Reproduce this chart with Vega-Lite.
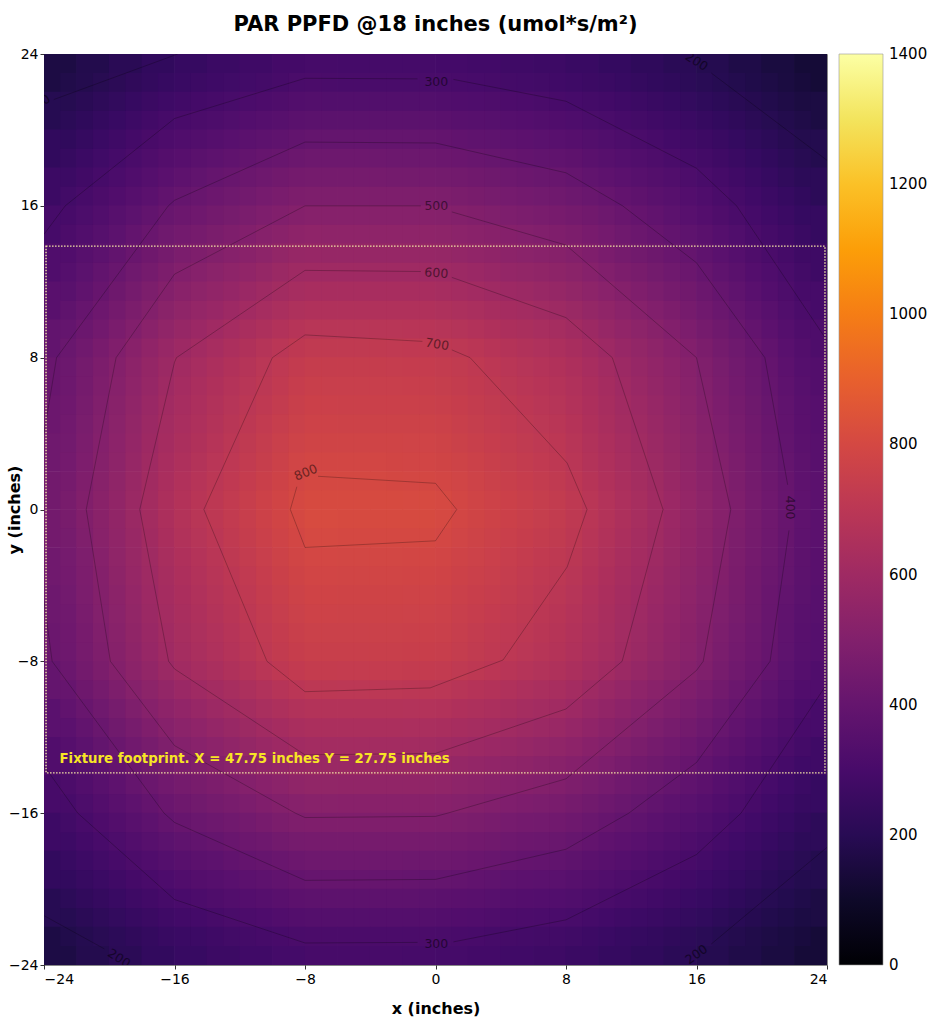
{
  "$schema": "https://vega.github.io/schema/vega-lite/v6.json",
  "width": 783,
  "height": 911,
  "autosize": {"type": "none"},
  "padding": {"left": 44, "top": 54, "right": 107, "bottom": 59},
  "background": "white",
  "title": {"text": "PAR PPFD @18 inches (umol*s/m²)", "font": "DejaVu Sans", "fontSize": 21, "fontWeight": "bold", "color": "#000", "anchor": "middle", "offset": 12},
  "config": {
    "view": {"stroke": "#888", "strokeWidth": 1},
    "axis": {"labelFont": "DejaVu Sans", "labelFontSize": 14, "labelColor": "#000", "tickColor": "#000", "tickSize": 4, "tickWidth": 0.8, "domain": false, "grid": false, "titleFont": "DejaVu Sans", "titleFontSize": 16, "titleFontWeight": "bold", "titleColor": "#000"}
  },
  "datasets": {
    "heat": [
{"x":-23,"y":23,"v":161},{"x":-21,"y":23,"v":183},{"x":-19,"y":23,"v":205},{"x":-17,"y":23,"v":227},{"x":-15,"y":23,"v":244},{"x":-13,"y":23,"v":258},{"x":-11,"y":23,"v":271},{"x":-9,"y":23,"v":285},{"x":-7,"y":23,"v":292},{"x":-5,"y":23,"v":291},{"x":-3,"y":23,"v":291},{"x":-1,"y":23,"v":291},{"x":1,"y":23,"v":287},{"x":3,"y":23,"v":279},{"x":5,"y":23,"v":271},{"x":7,"y":23,"v":264},{"x":9,"y":23,"v":252},{"x":11,"y":23,"v":237},{"x":13,"y":23,"v":222},{"x":15,"y":23,"v":206},{"x":17,"y":23,"v":189},{"x":19,"y":23,"v":170},{"x":21,"y":23,"v":151},{"x":23,"y":23,"v":132},
{"x":-23,"y":21,"v":194},{"x":-21,"y":21,"v":221},{"x":-19,"y":21,"v":247},{"x":-17,"y":21,"v":273},{"x":-15,"y":21,"v":294},{"x":-13,"y":21,"v":310},{"x":-11,"y":21,"v":327},{"x":-9,"y":21,"v":343},{"x":-7,"y":21,"v":351},{"x":-5,"y":21,"v":351},{"x":-3,"y":21,"v":351},{"x":-1,"y":21,"v":350},{"x":1,"y":21,"v":345},{"x":3,"y":21,"v":336},{"x":5,"y":21,"v":327},{"x":7,"y":21,"v":318},{"x":9,"y":21,"v":304},{"x":11,"y":21,"v":286},{"x":13,"y":21,"v":267},{"x":15,"y":21,"v":249},{"x":17,"y":21,"v":227},{"x":19,"y":21,"v":205},{"x":21,"y":21,"v":182},{"x":23,"y":21,"v":159},
{"x":-23,"y":19,"v":227},{"x":-21,"y":19,"v":258},{"x":-19,"y":19,"v":289},{"x":-17,"y":19,"v":319},{"x":-15,"y":19,"v":344},{"x":-13,"y":19,"v":363},{"x":-11,"y":19,"v":382},{"x":-9,"y":19,"v":401},{"x":-7,"y":19,"v":411},{"x":-5,"y":19,"v":410},{"x":-3,"y":19,"v":410},{"x":-1,"y":19,"v":409},{"x":1,"y":19,"v":404},{"x":3,"y":19,"v":393},{"x":5,"y":19,"v":382},{"x":7,"y":19,"v":372},{"x":9,"y":19,"v":356},{"x":11,"y":19,"v":334},{"x":13,"y":19,"v":312},{"x":15,"y":19,"v":291},{"x":17,"y":19,"v":266},{"x":19,"y":19,"v":239},{"x":21,"y":19,"v":213},{"x":23,"y":19,"v":186},
{"x":-23,"y":17,"v":260},{"x":-21,"y":17,"v":295},{"x":-19,"y":17,"v":331},{"x":-17,"y":17,"v":366},{"x":-15,"y":17,"v":394},{"x":-13,"y":17,"v":416},{"x":-11,"y":17,"v":438},{"x":-9,"y":17,"v":460},{"x":-7,"y":17,"v":471},{"x":-5,"y":17,"v":470},{"x":-3,"y":17,"v":470},{"x":-1,"y":17,"v":469},{"x":1,"y":17,"v":463},{"x":3,"y":17,"v":450},{"x":5,"y":17,"v":438},{"x":7,"y":17,"v":426},{"x":9,"y":17,"v":407},{"x":11,"y":17,"v":382},{"x":13,"y":17,"v":358},{"x":15,"y":17,"v":333},{"x":17,"y":17,"v":305},{"x":19,"y":17,"v":274},{"x":21,"y":17,"v":244},{"x":23,"y":17,"v":213},
{"x":-23,"y":15,"v":293},{"x":-21,"y":15,"v":332},{"x":-19,"y":15,"v":372},{"x":-17,"y":15,"v":411},{"x":-15,"y":15,"v":443},{"x":-13,"y":15,"v":468},{"x":-11,"y":15,"v":492},{"x":-9,"y":15,"v":517},{"x":-7,"y":15,"v":529},{"x":-5,"y":15,"v":529},{"x":-3,"y":15,"v":529},{"x":-1,"y":15,"v":527},{"x":1,"y":15,"v":520},{"x":3,"y":15,"v":507},{"x":5,"y":15,"v":492},{"x":7,"y":15,"v":479},{"x":9,"y":15,"v":458},{"x":11,"y":15,"v":430},{"x":13,"y":15,"v":402},{"x":15,"y":15,"v":375},{"x":17,"y":15,"v":343},{"x":19,"y":15,"v":308},{"x":21,"y":15,"v":274},{"x":23,"y":15,"v":240},
{"x":-23,"y":13,"v":325},{"x":-21,"y":13,"v":369},{"x":-19,"y":13,"v":413},{"x":-17,"y":13,"v":457},{"x":-15,"y":13,"v":492},{"x":-13,"y":13,"v":520},{"x":-11,"y":13,"v":547},{"x":-9,"y":13,"v":575},{"x":-7,"y":13,"v":588},{"x":-5,"y":13,"v":588},{"x":-3,"y":13,"v":588},{"x":-1,"y":13,"v":586},{"x":1,"y":13,"v":578},{"x":3,"y":13,"v":563},{"x":5,"y":13,"v":547},{"x":7,"y":13,"v":532},{"x":9,"y":13,"v":509},{"x":11,"y":13,"v":478},{"x":13,"y":13,"v":447},{"x":15,"y":13,"v":416},{"x":17,"y":13,"v":381},{"x":19,"y":13,"v":343},{"x":21,"y":13,"v":305},{"x":23,"y":13,"v":266},
{"x":-23,"y":11,"v":358},{"x":-21,"y":11,"v":406},{"x":-19,"y":11,"v":455},{"x":-17,"y":11,"v":503},{"x":-15,"y":11,"v":542},{"x":-13,"y":11,"v":572},{"x":-11,"y":11,"v":602},{"x":-9,"y":11,"v":632},{"x":-7,"y":11,"v":647},{"x":-5,"y":11,"v":646},{"x":-3,"y":11,"v":646},{"x":-1,"y":11,"v":645},{"x":1,"y":11,"v":636},{"x":3,"y":11,"v":619},{"x":5,"y":11,"v":602},{"x":7,"y":11,"v":585},{"x":9,"y":11,"v":560},{"x":11,"y":11,"v":526},{"x":13,"y":11,"v":492},{"x":15,"y":11,"v":458},{"x":17,"y":11,"v":419},{"x":19,"y":11,"v":377},{"x":21,"y":11,"v":335},{"x":23,"y":11,"v":293},
{"x":-23,"y":9,"v":391},{"x":-21,"y":9,"v":443},{"x":-19,"y":9,"v":496},{"x":-17,"y":9,"v":549},{"x":-15,"y":9,"v":591},{"x":-13,"y":9,"v":624},{"x":-11,"y":9,"v":657},{"x":-9,"y":9,"v":689},{"x":-7,"y":9,"v":706},{"x":-5,"y":9,"v":705},{"x":-3,"y":9,"v":705},{"x":-1,"y":9,"v":703},{"x":1,"y":9,"v":694},{"x":3,"y":9,"v":676},{"x":5,"y":9,"v":657},{"x":7,"y":9,"v":638},{"x":9,"y":9,"v":611},{"x":11,"y":9,"v":574},{"x":13,"y":9,"v":537},{"x":15,"y":9,"v":499},{"x":17,"y":9,"v":457},{"x":19,"y":9,"v":411},{"x":21,"y":9,"v":365},{"x":23,"y":9,"v":320},
{"x":-23,"y":7,"v":412},{"x":-21,"y":7,"v":468},{"x":-19,"y":7,"v":524},{"x":-17,"y":7,"v":579},{"x":-15,"y":7,"v":624},{"x":-13,"y":7,"v":659},{"x":-11,"y":7,"v":693},{"x":-9,"y":7,"v":728},{"x":-7,"y":7,"v":746},{"x":-5,"y":7,"v":745},{"x":-3,"y":7,"v":745},{"x":-1,"y":7,"v":743},{"x":1,"y":7,"v":733},{"x":3,"y":7,"v":714},{"x":5,"y":7,"v":693},{"x":7,"y":7,"v":674},{"x":9,"y":7,"v":645},{"x":11,"y":7,"v":606},{"x":13,"y":7,"v":567},{"x":15,"y":7,"v":527},{"x":17,"y":7,"v":483},{"x":19,"y":7,"v":434},{"x":21,"y":7,"v":386},{"x":23,"y":7,"v":338},
{"x":-23,"y":5,"v":424},{"x":-21,"y":5,"v":481},{"x":-19,"y":5,"v":538},{"x":-17,"y":5,"v":595},{"x":-15,"y":5,"v":641},{"x":-13,"y":5,"v":677},{"x":-11,"y":5,"v":712},{"x":-9,"y":5,"v":748},{"x":-7,"y":5,"v":766},{"x":-5,"y":5,"v":765},{"x":-3,"y":5,"v":765},{"x":-1,"y":5,"v":763},{"x":1,"y":5,"v":753},{"x":3,"y":5,"v":733},{"x":5,"y":5,"v":712},{"x":7,"y":5,"v":693},{"x":9,"y":5,"v":663},{"x":11,"y":5,"v":622},{"x":13,"y":5,"v":582},{"x":15,"y":5,"v":542},{"x":17,"y":5,"v":496},{"x":19,"y":5,"v":446},{"x":21,"y":5,"v":397},{"x":23,"y":5,"v":347},
{"x":-23,"y":3,"v":435},{"x":-21,"y":3,"v":494},{"x":-19,"y":3,"v":552},{"x":-17,"y":3,"v":611},{"x":-15,"y":3,"v":658},{"x":-13,"y":3,"v":695},{"x":-11,"y":3,"v":732},{"x":-9,"y":3,"v":768},{"x":-7,"y":3,"v":786},{"x":-5,"y":3,"v":785},{"x":-3,"y":3,"v":785},{"x":-1,"y":3,"v":783},{"x":1,"y":3,"v":773},{"x":3,"y":3,"v":753},{"x":5,"y":3,"v":732},{"x":7,"y":3,"v":711},{"x":9,"y":3,"v":680},{"x":11,"y":3,"v":639},{"x":13,"y":3,"v":598},{"x":15,"y":3,"v":556},{"x":17,"y":3,"v":509},{"x":19,"y":3,"v":458},{"x":21,"y":3,"v":407},{"x":23,"y":3,"v":356},
{"x":-23,"y":1,"v":446},{"x":-21,"y":1,"v":507},{"x":-19,"y":1,"v":567},{"x":-17,"y":1,"v":627},{"x":-15,"y":1,"v":675},{"x":-13,"y":1,"v":713},{"x":-11,"y":1,"v":750},{"x":-9,"y":1,"v":788},{"x":-7,"y":1,"v":807},{"x":-5,"y":1,"v":806},{"x":-3,"y":1,"v":806},{"x":-1,"y":1,"v":804},{"x":1,"y":1,"v":793},{"x":3,"y":1,"v":772},{"x":5,"y":1,"v":750},{"x":7,"y":1,"v":730},{"x":9,"y":1,"v":698},{"x":11,"y":1,"v":656},{"x":13,"y":1,"v":613},{"x":15,"y":1,"v":571},{"x":17,"y":1,"v":522},{"x":19,"y":1,"v":470},{"x":21,"y":1,"v":418},{"x":23,"y":1,"v":365},
{"x":-23,"y":-1,"v":447},{"x":-21,"y":-1,"v":508},{"x":-19,"y":-1,"v":568},{"x":-17,"y":-1,"v":629},{"x":-15,"y":-1,"v":677},{"x":-13,"y":-1,"v":715},{"x":-11,"y":-1,"v":752},{"x":-9,"y":-1,"v":790},{"x":-7,"y":-1,"v":809},{"x":-5,"y":-1,"v":808},{"x":-3,"y":-1,"v":808},{"x":-1,"y":-1,"v":806},{"x":1,"y":-1,"v":795},{"x":3,"y":-1,"v":774},{"x":5,"y":-1,"v":752},{"x":7,"y":-1,"v":732},{"x":9,"y":-1,"v":700},{"x":11,"y":-1,"v":657},{"x":13,"y":-1,"v":615},{"x":15,"y":-1,"v":572},{"x":17,"y":-1,"v":524},{"x":19,"y":-1,"v":471},{"x":21,"y":-1,"v":419},{"x":23,"y":-1,"v":366},
{"x":-23,"y":-3,"v":438},{"x":-21,"y":-3,"v":497},{"x":-19,"y":-3,"v":556},{"x":-17,"y":-3,"v":615},{"x":-15,"y":-3,"v":663},{"x":-13,"y":-3,"v":700},{"x":-11,"y":-3,"v":736},{"x":-9,"y":-3,"v":773},{"x":-7,"y":-3,"v":792},{"x":-5,"y":-3,"v":791},{"x":-3,"y":-3,"v":791},{"x":-1,"y":-3,"v":789},{"x":1,"y":-3,"v":778},{"x":3,"y":-3,"v":758},{"x":5,"y":-3,"v":736},{"x":7,"y":-3,"v":716},{"x":9,"y":-3,"v":685},{"x":11,"y":-3,"v":643},{"x":13,"y":-3,"v":602},{"x":15,"y":-3,"v":560},{"x":17,"y":-3,"v":513},{"x":19,"y":-3,"v":461},{"x":21,"y":-3,"v":410},{"x":23,"y":-3,"v":359},
{"x":-23,"y":-5,"v":428},{"x":-21,"y":-5,"v":486},{"x":-19,"y":-5,"v":544},{"x":-17,"y":-5,"v":602},{"x":-15,"y":-5,"v":648},{"x":-13,"y":-5,"v":684},{"x":-11,"y":-5,"v":720},{"x":-9,"y":-5,"v":757},{"x":-7,"y":-5,"v":775},{"x":-5,"y":-5,"v":774},{"x":-3,"y":-5,"v":774},{"x":-1,"y":-5,"v":772},{"x":1,"y":-5,"v":761},{"x":3,"y":-5,"v":741},{"x":5,"y":-5,"v":720},{"x":7,"y":-5,"v":701},{"x":9,"y":-5,"v":670},{"x":11,"y":-5,"v":629},{"x":13,"y":-5,"v":589},{"x":15,"y":-5,"v":548},{"x":17,"y":-5,"v":501},{"x":19,"y":-5,"v":451},{"x":21,"y":-5,"v":401},{"x":23,"y":-5,"v":351},
{"x":-23,"y":-7,"v":419},{"x":-21,"y":-7,"v":476},{"x":-19,"y":-7,"v":532},{"x":-17,"y":-7,"v":589},{"x":-15,"y":-7,"v":634},{"x":-13,"y":-7,"v":669},{"x":-11,"y":-7,"v":705},{"x":-9,"y":-7,"v":740},{"x":-7,"y":-7,"v":757},{"x":-5,"y":-7,"v":756},{"x":-3,"y":-7,"v":756},{"x":-1,"y":-7,"v":755},{"x":1,"y":-7,"v":744},{"x":3,"y":-7,"v":725},{"x":5,"y":-7,"v":705},{"x":7,"y":-7,"v":685},{"x":9,"y":-7,"v":655},{"x":11,"y":-7,"v":616},{"x":13,"y":-7,"v":576},{"x":15,"y":-7,"v":536},{"x":17,"y":-7,"v":490},{"x":19,"y":-7,"v":441},{"x":21,"y":-7,"v":392},{"x":23,"y":-7,"v":343},
{"x":-23,"y":-9,"v":398},{"x":-21,"y":-9,"v":451},{"x":-19,"y":-9,"v":505},{"x":-17,"y":-9,"v":559},{"x":-15,"y":-9,"v":602},{"x":-13,"y":-9,"v":635},{"x":-11,"y":-9,"v":669},{"x":-9,"y":-9,"v":702},{"x":-7,"y":-9,"v":719},{"x":-5,"y":-9,"v":718},{"x":-3,"y":-9,"v":718},{"x":-1,"y":-9,"v":716},{"x":1,"y":-9,"v":707},{"x":3,"y":-9,"v":688},{"x":5,"y":-9,"v":669},{"x":7,"y":-9,"v":650},{"x":9,"y":-9,"v":622},{"x":11,"y":-9,"v":584},{"x":13,"y":-9,"v":546},{"x":15,"y":-9,"v":509},{"x":17,"y":-9,"v":466},{"x":19,"y":-9,"v":419},{"x":21,"y":-9,"v":372},{"x":23,"y":-9,"v":326},
{"x":-23,"y":-11,"v":364},{"x":-21,"y":-11,"v":413},{"x":-19,"y":-11,"v":463},{"x":-17,"y":-11,"v":512},{"x":-15,"y":-11,"v":551},{"x":-13,"y":-11,"v":582},{"x":-11,"y":-11,"v":613},{"x":-9,"y":-11,"v":643},{"x":-7,"y":-11,"v":658},{"x":-5,"y":-11,"v":658},{"x":-3,"y":-11,"v":658},{"x":-1,"y":-11,"v":656},{"x":1,"y":-11,"v":647},{"x":3,"y":-11,"v":630},{"x":5,"y":-11,"v":613},{"x":7,"y":-11,"v":596},{"x":9,"y":-11,"v":570},{"x":11,"y":-11,"v":535},{"x":13,"y":-11,"v":501},{"x":15,"y":-11,"v":466},{"x":17,"y":-11,"v":426},{"x":19,"y":-11,"v":384},{"x":21,"y":-11,"v":341},{"x":23,"y":-11,"v":298},
{"x":-23,"y":-13,"v":330},{"x":-21,"y":-13,"v":375},{"x":-19,"y":-13,"v":420},{"x":-17,"y":-13,"v":464},{"x":-15,"y":-13,"v":500},{"x":-13,"y":-13,"v":528},{"x":-11,"y":-13,"v":556},{"x":-9,"y":-13,"v":583},{"x":-7,"y":-13,"v":597},{"x":-5,"y":-13,"v":596},{"x":-3,"y":-13,"v":596},{"x":-1,"y":-13,"v":595},{"x":1,"y":-13,"v":587},{"x":3,"y":-13,"v":572},{"x":5,"y":-13,"v":556},{"x":7,"y":-13,"v":540},{"x":9,"y":-13,"v":517},{"x":11,"y":-13,"v":485},{"x":13,"y":-13,"v":454},{"x":15,"y":-13,"v":423},{"x":17,"y":-13,"v":387},{"x":19,"y":-13,"v":348},{"x":21,"y":-13,"v":309},{"x":23,"y":-13,"v":270},
{"x":-23,"y":-15,"v":297},{"x":-21,"y":-15,"v":337},{"x":-19,"y":-15,"v":377},{"x":-17,"y":-15,"v":417},{"x":-15,"y":-15,"v":449},{"x":-13,"y":-15,"v":474},{"x":-11,"y":-15,"v":499},{"x":-9,"y":-15,"v":524},{"x":-7,"y":-15,"v":537},{"x":-5,"y":-15,"v":536},{"x":-3,"y":-15,"v":536},{"x":-1,"y":-15,"v":535},{"x":1,"y":-15,"v":528},{"x":3,"y":-15,"v":514},{"x":5,"y":-15,"v":499},{"x":7,"y":-15,"v":486},{"x":9,"y":-15,"v":464},{"x":11,"y":-15,"v":436},{"x":13,"y":-15,"v":408},{"x":15,"y":-15,"v":380},{"x":17,"y":-15,"v":348},{"x":19,"y":-15,"v":313},{"x":21,"y":-15,"v":278},{"x":23,"y":-15,"v":243},
{"x":-23,"y":-17,"v":264},{"x":-21,"y":-17,"v":299},{"x":-19,"y":-17,"v":335},{"x":-17,"y":-17,"v":370},{"x":-15,"y":-17,"v":399},{"x":-13,"y":-17,"v":421},{"x":-11,"y":-17,"v":443},{"x":-9,"y":-17,"v":465},{"x":-7,"y":-17,"v":476},{"x":-5,"y":-17,"v":476},{"x":-3,"y":-17,"v":476},{"x":-1,"y":-17,"v":475},{"x":1,"y":-17,"v":468},{"x":3,"y":-17,"v":456},{"x":5,"y":-17,"v":443},{"x":7,"y":-17,"v":431},{"x":9,"y":-17,"v":412},{"x":11,"y":-17,"v":387},{"x":13,"y":-17,"v":362},{"x":15,"y":-17,"v":337},{"x":17,"y":-17,"v":308},{"x":19,"y":-17,"v":278},{"x":21,"y":-17,"v":247},{"x":23,"y":-17,"v":216},
{"x":-23,"y":-19,"v":230},{"x":-21,"y":-19,"v":261},{"x":-19,"y":-19,"v":292},{"x":-17,"y":-19,"v":323},{"x":-15,"y":-19,"v":348},{"x":-13,"y":-19,"v":367},{"x":-11,"y":-19,"v":387},{"x":-9,"y":-19,"v":406},{"x":-7,"y":-19,"v":416},{"x":-5,"y":-19,"v":415},{"x":-3,"y":-19,"v":415},{"x":-1,"y":-19,"v":414},{"x":1,"y":-19,"v":409},{"x":3,"y":-19,"v":398},{"x":5,"y":-19,"v":387},{"x":7,"y":-19,"v":376},{"x":9,"y":-19,"v":360},{"x":11,"y":-19,"v":338},{"x":13,"y":-19,"v":316},{"x":15,"y":-19,"v":294},{"x":17,"y":-19,"v":269},{"x":19,"y":-19,"v":242},{"x":21,"y":-19,"v":215},{"x":23,"y":-19,"v":188},
{"x":-23,"y":-21,"v":197},{"x":-21,"y":-21,"v":223},{"x":-19,"y":-21,"v":250},{"x":-17,"y":-21,"v":276},{"x":-15,"y":-21,"v":298},{"x":-13,"y":-21,"v":314},{"x":-11,"y":-21,"v":331},{"x":-9,"y":-21,"v":347},{"x":-7,"y":-21,"v":355},{"x":-5,"y":-21,"v":355},{"x":-3,"y":-21,"v":355},{"x":-1,"y":-21,"v":354},{"x":1,"y":-21,"v":349},{"x":3,"y":-21,"v":340},{"x":5,"y":-21,"v":331},{"x":7,"y":-21,"v":321},{"x":9,"y":-21,"v":308},{"x":11,"y":-21,"v":289},{"x":13,"y":-21,"v":270},{"x":15,"y":-21,"v":251},{"x":17,"y":-21,"v":230},{"x":19,"y":-21,"v":207},{"x":21,"y":-21,"v":184},{"x":23,"y":-21,"v":161},
{"x":-23,"y":-23,"v":163},{"x":-21,"y":-23,"v":185},{"x":-19,"y":-23,"v":207},{"x":-17,"y":-23,"v":229},{"x":-15,"y":-23,"v":247},{"x":-13,"y":-23,"v":261},{"x":-11,"y":-23,"v":274},{"x":-9,"y":-23,"v":288},{"x":-7,"y":-23,"v":295},{"x":-5,"y":-23,"v":295},{"x":-3,"y":-23,"v":295},{"x":-1,"y":-23,"v":294},{"x":1,"y":-23,"v":290},{"x":3,"y":-23,"v":282},{"x":5,"y":-23,"v":274},{"x":7,"y":-23,"v":267},{"x":9,"y":-23,"v":255},{"x":11,"y":-23,"v":240},{"x":13,"y":-23,"v":224},{"x":15,"y":-23,"v":209},{"x":17,"y":-23,"v":191},{"x":19,"y":-23,"v":172},{"x":21,"y":-23,"v":153},{"x":23,"y":-23,"v":134}
    ],
    "heat2": [
{"x":-22,"y":22,"v":190},{"x":-20,"y":22,"v":214},{"x":-18,"y":22,"v":238},{"x":-16,"y":22,"v":262},{"x":-14,"y":22,"v":277},{"x":-12,"y":22,"v":292},{"x":-10,"y":22,"v":307},{"x":-8,"y":22,"v":322},{"x":-6,"y":22,"v":321},{"x":-4,"y":22,"v":321},{"x":-2,"y":22,"v":321},{"x":0,"y":22,"v":321},{"x":2,"y":22,"v":312},{"x":4,"y":22,"v":304},{"x":6,"y":22,"v":296},{"x":8,"y":22,"v":287},{"x":10,"y":22,"v":270},{"x":12,"y":22,"v":253},{"x":14,"y":22,"v":236},{"x":16,"y":22,"v":219},{"x":18,"y":22,"v":198},{"x":20,"y":22,"v":177},{"x":22,"y":22,"v":156},
{"x":-22,"y":20,"v":225},{"x":-20,"y":20,"v":254},{"x":-18,"y":20,"v":282},{"x":-16,"y":20,"v":311},{"x":-14,"y":20,"v":328},{"x":-12,"y":20,"v":346},{"x":-10,"y":20,"v":364},{"x":-8,"y":20,"v":382},{"x":-6,"y":20,"v":381},{"x":-4,"y":20,"v":381},{"x":-2,"y":20,"v":381},{"x":0,"y":20,"v":380},{"x":2,"y":20,"v":370},{"x":4,"y":20,"v":360},{"x":6,"y":20,"v":350},{"x":8,"y":20,"v":340},{"x":10,"y":20,"v":320},{"x":12,"y":20,"v":300},{"x":14,"y":20,"v":280},{"x":16,"y":20,"v":260},{"x":18,"y":20,"v":235},{"x":20,"y":20,"v":210},{"x":22,"y":20,"v":185},
{"x":-22,"y":18,"v":260},{"x":-20,"y":18,"v":293},{"x":-18,"y":18,"v":326},{"x":-16,"y":18,"v":358},{"x":-14,"y":18,"v":379},{"x":-12,"y":18,"v":399},{"x":-10,"y":18,"v":420},{"x":-8,"y":18,"v":440},{"x":-6,"y":18,"v":440},{"x":-4,"y":18,"v":440},{"x":-2,"y":18,"v":439},{"x":0,"y":18,"v":439},{"x":2,"y":18,"v":427},{"x":4,"y":18,"v":416},{"x":6,"y":18,"v":404},{"x":8,"y":18,"v":392},{"x":10,"y":18,"v":369},{"x":12,"y":18,"v":346},{"x":14,"y":18,"v":323},{"x":16,"y":18,"v":300},{"x":18,"y":18,"v":271},{"x":20,"y":18,"v":243},{"x":22,"y":18,"v":213},
{"x":-22,"y":16,"v":295},{"x":-20,"y":16,"v":332},{"x":-18,"y":16,"v":370},{"x":-16,"y":16,"v":407},{"x":-14,"y":16,"v":430},{"x":-12,"y":16,"v":453},{"x":-10,"y":16,"v":477},{"x":-8,"y":16,"v":500},{"x":-6,"y":16,"v":499},{"x":-4,"y":16,"v":499},{"x":-2,"y":16,"v":499},{"x":0,"y":16,"v":498},{"x":2,"y":16,"v":485},{"x":4,"y":16,"v":472},{"x":6,"y":16,"v":459},{"x":8,"y":16,"v":446},{"x":10,"y":16,"v":419},{"x":12,"y":16,"v":393},{"x":14,"y":16,"v":367},{"x":16,"y":16,"v":340},{"x":18,"y":16,"v":308},{"x":20,"y":16,"v":275},{"x":22,"y":16,"v":242},
{"x":-22,"y":14,"v":330},{"x":-20,"y":14,"v":371},{"x":-18,"y":14,"v":413},{"x":-16,"y":14,"v":455},{"x":-14,"y":14,"v":481},{"x":-12,"y":14,"v":507},{"x":-10,"y":14,"v":533},{"x":-8,"y":14,"v":559},{"x":-6,"y":14,"v":558},{"x":-4,"y":14,"v":558},{"x":-2,"y":14,"v":557},{"x":0,"y":14,"v":557},{"x":2,"y":14,"v":542},{"x":4,"y":14,"v":527},{"x":6,"y":14,"v":513},{"x":8,"y":14,"v":498},{"x":10,"y":14,"v":469},{"x":12,"y":14,"v":439},{"x":14,"y":14,"v":410},{"x":16,"y":14,"v":380},{"x":18,"y":14,"v":344},{"x":20,"y":14,"v":308},{"x":22,"y":14,"v":271},
{"x":-22,"y":12,"v":364},{"x":-20,"y":12,"v":411},{"x":-18,"y":12,"v":457},{"x":-16,"y":12,"v":503},{"x":-14,"y":12,"v":531},{"x":-12,"y":12,"v":560},{"x":-10,"y":12,"v":589},{"x":-8,"y":12,"v":618},{"x":-6,"y":12,"v":617},{"x":-4,"y":12,"v":617},{"x":-2,"y":12,"v":616},{"x":0,"y":12,"v":615},{"x":2,"y":12,"v":600},{"x":4,"y":12,"v":583},{"x":6,"y":12,"v":567},{"x":8,"y":12,"v":550},{"x":10,"y":12,"v":518},{"x":12,"y":12,"v":485},{"x":14,"y":12,"v":453},{"x":16,"y":12,"v":420},{"x":18,"y":12,"v":380},{"x":20,"y":12,"v":340},{"x":22,"y":12,"v":299},
{"x":-22,"y":10,"v":399},{"x":-20,"y":10,"v":450},{"x":-18,"y":10,"v":500},{"x":-16,"y":10,"v":551},{"x":-14,"y":10,"v":582},{"x":-12,"y":10,"v":614},{"x":-10,"y":10,"v":645},{"x":-8,"y":10,"v":676},{"x":-6,"y":10,"v":676},{"x":-4,"y":10,"v":676},{"x":-2,"y":10,"v":675},{"x":0,"y":10,"v":674},{"x":2,"y":10,"v":657},{"x":4,"y":10,"v":638},{"x":6,"y":10,"v":621},{"x":8,"y":10,"v":603},{"x":10,"y":10,"v":567},{"x":12,"y":10,"v":532},{"x":14,"y":10,"v":496},{"x":16,"y":10,"v":460},{"x":18,"y":10,"v":416},{"x":20,"y":10,"v":373},{"x":22,"y":10,"v":328},
{"x":-22,"y":8,"v":434},{"x":-20,"y":8,"v":489},{"x":-18,"y":8,"v":544},{"x":-16,"y":8,"v":598},{"x":-14,"y":8,"v":633},{"x":-12,"y":8,"v":667},{"x":-10,"y":8,"v":701},{"x":-8,"y":8,"v":735},{"x":-6,"y":8,"v":734},{"x":-4,"y":8,"v":734},{"x":-2,"y":8,"v":733},{"x":0,"y":8,"v":733},{"x":2,"y":8,"v":714},{"x":4,"y":8,"v":694},{"x":6,"y":8,"v":675},{"x":8,"y":8,"v":655},{"x":10,"y":8,"v":616},{"x":12,"y":8,"v":578},{"x":14,"y":8,"v":539},{"x":16,"y":8,"v":500},{"x":18,"y":8,"v":453},{"x":20,"y":8,"v":405},{"x":22,"y":8,"v":356},
{"x":-22,"y":6,"v":446},{"x":-20,"y":6,"v":502},{"x":-18,"y":6,"v":559},{"x":-16,"y":6,"v":615},{"x":-14,"y":6,"v":650},{"x":-12,"y":6,"v":685},{"x":-10,"y":6,"v":721},{"x":-8,"y":6,"v":756},{"x":-6,"y":6,"v":755},{"x":-4,"y":6,"v":755},{"x":-2,"y":6,"v":754},{"x":0,"y":6,"v":753},{"x":2,"y":6,"v":734},{"x":4,"y":6,"v":713},{"x":6,"y":6,"v":694},{"x":8,"y":6,"v":673},{"x":10,"y":6,"v":634},{"x":12,"y":6,"v":594},{"x":14,"y":6,"v":554},{"x":16,"y":6,"v":514},{"x":18,"y":6,"v":465},{"x":20,"y":6,"v":416},{"x":22,"y":6,"v":366},
{"x":-22,"y":4,"v":458},{"x":-20,"y":4,"v":516},{"x":-18,"y":4,"v":574},{"x":-16,"y":4,"v":632},{"x":-14,"y":4,"v":668},{"x":-12,"y":4,"v":704},{"x":-10,"y":4,"v":740},{"x":-8,"y":4,"v":776},{"x":-6,"y":4,"v":775},{"x":-4,"y":4,"v":775},{"x":-2,"y":4,"v":774},{"x":0,"y":4,"v":773},{"x":2,"y":4,"v":753},{"x":4,"y":4,"v":732},{"x":6,"y":4,"v":712},{"x":8,"y":4,"v":692},{"x":10,"y":4,"v":651},{"x":12,"y":4,"v":610},{"x":14,"y":4,"v":569},{"x":16,"y":4,"v":528},{"x":18,"y":4,"v":478},{"x":20,"y":4,"v":428},{"x":22,"y":4,"v":376},
{"x":-22,"y":2,"v":470},{"x":-20,"y":2,"v":529},{"x":-18,"y":2,"v":589},{"x":-16,"y":2,"v":648},{"x":-14,"y":2,"v":685},{"x":-12,"y":2,"v":722},{"x":-10,"y":2,"v":760},{"x":-8,"y":2,"v":797},{"x":-6,"y":2,"v":796},{"x":-4,"y":2,"v":796},{"x":-2,"y":2,"v":795},{"x":0,"y":2,"v":794},{"x":2,"y":2,"v":773},{"x":4,"y":2,"v":752},{"x":6,"y":2,"v":731},{"x":8,"y":2,"v":710},{"x":10,"y":2,"v":668},{"x":12,"y":2,"v":626},{"x":14,"y":2,"v":584},{"x":16,"y":2,"v":542},{"x":18,"y":2,"v":490},{"x":20,"y":2,"v":439},{"x":22,"y":2,"v":386},
{"x":-22,"y":0,"v":482},{"x":-20,"y":0,"v":543},{"x":-18,"y":0,"v":604},{"x":-16,"y":0,"v":665},{"x":-14,"y":0,"v":703},{"x":-12,"y":0,"v":741},{"x":-10,"y":0,"v":779},{"x":-8,"y":0,"v":817},{"x":-6,"y":0,"v":816},{"x":-4,"y":0,"v":816},{"x":-2,"y":0,"v":815},{"x":0,"y":0,"v":814},{"x":2,"y":0,"v":793},{"x":4,"y":0,"v":771},{"x":6,"y":0,"v":750},{"x":8,"y":0,"v":728},{"x":10,"y":0,"v":685},{"x":12,"y":0,"v":642},{"x":14,"y":0,"v":599},{"x":16,"y":0,"v":556},{"x":18,"y":0,"v":503},{"x":20,"y":0,"v":450},{"x":22,"y":0,"v":396},
{"x":-22,"y":-2,"v":472},{"x":-20,"y":-2,"v":532},{"x":-18,"y":-2,"v":591},{"x":-16,"y":-2,"v":651},{"x":-14,"y":-2,"v":688},{"x":-12,"y":-2,"v":725},{"x":-10,"y":-2,"v":763},{"x":-8,"y":-2,"v":800},{"x":-6,"y":-2,"v":799},{"x":-4,"y":-2,"v":799},{"x":-2,"y":-2,"v":798},{"x":0,"y":-2,"v":797},{"x":2,"y":-2,"v":776},{"x":4,"y":-2,"v":755},{"x":6,"y":-2,"v":734},{"x":8,"y":-2,"v":713},{"x":10,"y":-2,"v":671},{"x":12,"y":-2,"v":629},{"x":14,"y":-2,"v":586},{"x":16,"y":-2,"v":544},{"x":18,"y":-2,"v":492},{"x":20,"y":-2,"v":441},{"x":22,"y":-2,"v":388},
{"x":-22,"y":-4,"v":462},{"x":-20,"y":-4,"v":520},{"x":-18,"y":-4,"v":579},{"x":-16,"y":-4,"v":637},{"x":-14,"y":-4,"v":673},{"x":-12,"y":-4,"v":710},{"x":-10,"y":-4,"v":746},{"x":-8,"y":-4,"v":783},{"x":-6,"y":-4,"v":782},{"x":-4,"y":-4,"v":782},{"x":-2,"y":-4,"v":781},{"x":0,"y":-4,"v":780},{"x":2,"y":-4,"v":760},{"x":4,"y":-4,"v":739},{"x":6,"y":-4,"v":718},{"x":8,"y":-4,"v":697},{"x":10,"y":-4,"v":656},{"x":12,"y":-4,"v":615},{"x":14,"y":-4,"v":574},{"x":16,"y":-4,"v":533},{"x":18,"y":-4,"v":482},{"x":20,"y":-4,"v":431},{"x":22,"y":-4,"v":379},
{"x":-22,"y":-6,"v":452},{"x":-20,"y":-6,"v":509},{"x":-18,"y":-6,"v":567},{"x":-16,"y":-6,"v":624},{"x":-14,"y":-6,"v":659},{"x":-12,"y":-6,"v":695},{"x":-10,"y":-6,"v":731},{"x":-8,"y":-6,"v":766},{"x":-6,"y":-6,"v":765},{"x":-4,"y":-6,"v":765},{"x":-2,"y":-6,"v":764},{"x":0,"y":-6,"v":764},{"x":2,"y":-6,"v":744},{"x":4,"y":-6,"v":723},{"x":6,"y":-6,"v":703},{"x":8,"y":-6,"v":683},{"x":10,"y":-6,"v":643},{"x":12,"y":-6,"v":602},{"x":14,"y":-6,"v":562},{"x":16,"y":-6,"v":522},{"x":18,"y":-6,"v":472},{"x":20,"y":-6,"v":422},{"x":22,"y":-6,"v":371},
{"x":-22,"y":-8,"v":442},{"x":-20,"y":-8,"v":498},{"x":-18,"y":-8,"v":554},{"x":-16,"y":-8,"v":610},{"x":-14,"y":-8,"v":645},{"x":-12,"y":-8,"v":679},{"x":-10,"y":-8,"v":714},{"x":-8,"y":-8,"v":749},{"x":-6,"y":-8,"v":748},{"x":-4,"y":-8,"v":748},{"x":-2,"y":-8,"v":747},{"x":0,"y":-8,"v":746},{"x":2,"y":-8,"v":727},{"x":4,"y":-8,"v":707},{"x":6,"y":-8,"v":688},{"x":8,"y":-8,"v":668},{"x":10,"y":-8,"v":628},{"x":12,"y":-8,"v":589},{"x":14,"y":-8,"v":549},{"x":16,"y":-8,"v":510},{"x":18,"y":-8,"v":461},{"x":20,"y":-8,"v":413},{"x":22,"y":-8,"v":363},
{"x":-22,"y":-10,"v":406},{"x":-20,"y":-10,"v":458},{"x":-18,"y":-10,"v":509},{"x":-16,"y":-10,"v":561},{"x":-14,"y":-10,"v":593},{"x":-12,"y":-10,"v":625},{"x":-10,"y":-10,"v":657},{"x":-8,"y":-10,"v":689},{"x":-6,"y":-10,"v":688},{"x":-4,"y":-10,"v":688},{"x":-2,"y":-10,"v":687},{"x":0,"y":-10,"v":686},{"x":2,"y":-10,"v":668},{"x":4,"y":-10,"v":650},{"x":6,"y":-10,"v":632},{"x":8,"y":-10,"v":614},{"x":10,"y":-10,"v":577},{"x":12,"y":-10,"v":541},{"x":14,"y":-10,"v":505},{"x":16,"y":-10,"v":469},{"x":18,"y":-10,"v":424},{"x":20,"y":-10,"v":379},{"x":22,"y":-10,"v":334},
{"x":-22,"y":-12,"v":371},{"x":-20,"y":-12,"v":418},{"x":-18,"y":-12,"v":464},{"x":-16,"y":-12,"v":511},{"x":-14,"y":-12,"v":541},{"x":-12,"y":-12,"v":570},{"x":-10,"y":-12,"v":599},{"x":-8,"y":-12,"v":628},{"x":-6,"y":-12,"v":628},{"x":-4,"y":-12,"v":628},{"x":-2,"y":-12,"v":627},{"x":0,"y":-12,"v":626},{"x":2,"y":-12,"v":610},{"x":4,"y":-12,"v":593},{"x":6,"y":-12,"v":577},{"x":8,"y":-12,"v":560},{"x":10,"y":-12,"v":527},{"x":12,"y":-12,"v":494},{"x":14,"y":-12,"v":461},{"x":16,"y":-12,"v":428},{"x":18,"y":-12,"v":387},{"x":20,"y":-12,"v":346},{"x":22,"y":-12,"v":305},
{"x":-22,"y":-14,"v":335},{"x":-20,"y":-14,"v":377},{"x":-18,"y":-14,"v":419},{"x":-16,"y":-14,"v":462},{"x":-14,"y":-14,"v":488},{"x":-12,"y":-14,"v":514},{"x":-10,"y":-14,"v":541},{"x":-8,"y":-14,"v":567},{"x":-6,"y":-14,"v":566},{"x":-4,"y":-14,"v":566},{"x":-2,"y":-14,"v":566},{"x":0,"y":-14,"v":565},{"x":2,"y":-14,"v":550},{"x":4,"y":-14,"v":535},{"x":6,"y":-14,"v":521},{"x":8,"y":-14,"v":505},{"x":10,"y":-14,"v":475},{"x":12,"y":-14,"v":446},{"x":14,"y":-14,"v":416},{"x":16,"y":-14,"v":386},{"x":18,"y":-14,"v":349},{"x":20,"y":-14,"v":312},{"x":22,"y":-14,"v":275},
{"x":-22,"y":-16,"v":299},{"x":-20,"y":-16,"v":337},{"x":-18,"y":-16,"v":374},{"x":-16,"y":-16,"v":412},{"x":-14,"y":-16,"v":436},{"x":-12,"y":-16,"v":459},{"x":-10,"y":-16,"v":483},{"x":-8,"y":-16,"v":507},{"x":-6,"y":-16,"v":506},{"x":-4,"y":-16,"v":506},{"x":-2,"y":-16,"v":505},{"x":0,"y":-16,"v":505},{"x":2,"y":-16,"v":492},{"x":4,"y":-16,"v":478},{"x":6,"y":-16,"v":465},{"x":8,"y":-16,"v":451},{"x":10,"y":-16,"v":425},{"x":12,"y":-16,"v":398},{"x":14,"y":-16,"v":371},{"x":16,"y":-16,"v":345},{"x":18,"y":-16,"v":312},{"x":20,"y":-16,"v":279},{"x":22,"y":-16,"v":246},
{"x":-22,"y":-18,"v":263},{"x":-20,"y":-18,"v":296},{"x":-18,"y":-18,"v":330},{"x":-16,"y":-18,"v":363},{"x":-14,"y":-18,"v":384},{"x":-12,"y":-18,"v":405},{"x":-10,"y":-18,"v":425},{"x":-8,"y":-18,"v":446},{"x":-6,"y":-18,"v":446},{"x":-4,"y":-18,"v":446},{"x":-2,"y":-18,"v":445},{"x":0,"y":-18,"v":444},{"x":2,"y":-18,"v":433},{"x":4,"y":-18,"v":421},{"x":6,"y":-18,"v":410},{"x":8,"y":-18,"v":397},{"x":10,"y":-18,"v":374},{"x":12,"y":-18,"v":351},{"x":14,"y":-18,"v":327},{"x":16,"y":-18,"v":304},{"x":18,"y":-18,"v":275},{"x":20,"y":-18,"v":246},{"x":22,"y":-18,"v":216},
{"x":-22,"y":-20,"v":228},{"x":-20,"y":-20,"v":256},{"x":-18,"y":-20,"v":285},{"x":-16,"y":-20,"v":314},{"x":-14,"y":-20,"v":332},{"x":-12,"y":-20,"v":350},{"x":-10,"y":-20,"v":368},{"x":-8,"y":-20,"v":386},{"x":-6,"y":-20,"v":385},{"x":-4,"y":-20,"v":385},{"x":-2,"y":-20,"v":385},{"x":0,"y":-20,"v":384},{"x":2,"y":-20,"v":374},{"x":4,"y":-20,"v":364},{"x":6,"y":-20,"v":354},{"x":8,"y":-20,"v":344},{"x":10,"y":-20,"v":323},{"x":12,"y":-20,"v":303},{"x":14,"y":-20,"v":283},{"x":16,"y":-20,"v":262},{"x":18,"y":-20,"v":237},{"x":20,"y":-20,"v":212},{"x":22,"y":-20,"v":187},
{"x":-22,"y":-22,"v":192},{"x":-20,"y":-22,"v":216},{"x":-18,"y":-22,"v":240},{"x":-16,"y":-22,"v":265},{"x":-14,"y":-22,"v":280},{"x":-12,"y":-22,"v":295},{"x":-10,"y":-22,"v":310},{"x":-8,"y":-22,"v":325},{"x":-6,"y":-22,"v":325},{"x":-4,"y":-22,"v":325},{"x":-2,"y":-22,"v":324},{"x":0,"y":-22,"v":324},{"x":2,"y":-22,"v":316},{"x":4,"y":-22,"v":307},{"x":6,"y":-22,"v":299},{"x":8,"y":-22,"v":290},{"x":10,"y":-22,"v":273},{"x":12,"y":-22,"v":256},{"x":14,"y":-22,"v":238},{"x":16,"y":-22,"v":221},{"x":18,"y":-22,"v":200},{"x":20,"y":-22,"v":179},{"x":22,"y":-22,"v":158}
    ],
    "contours": [
{"s":"800","o":1,"x":-8.5,"y":1.2},{"s":"800","o":2,"x":-8.9,"y":0},{"s":"800","o":3,"x":-8,"y":-2.0},{"s":"800","o":4,"x":0,"y":-1.65},{"s":"800","o":5,"x":1.3,"y":0},{"s":"800","o":6,"x":0,"y":1.38},{"s":"800","o":7,"x":-7.2,"y":1.75},
{"s":"700","o":1,"x":1.0,"y":8.41},{"s":"700","o":2,"x":2.12,"y":8.0},{"s":"700","o":3,"x":8.07,"y":2.45},{"s":"700","o":4,"x":9.29,"y":0},{"s":"700","o":5,"x":8.07,"y":-3.03},{"s":"700","o":6,"x":4.14,"y":-7.93},{"s":"700","o":7,"x":-0.33,"y":-9.4},{"s":"700","o":8,"x":-8,"y":-9.6},{"s":"700","o":9,"x":-10.33,"y":-8.0},{"s":"700","o":10,"x":-14.2,"y":0},{"s":"700","o":11,"x":-10.0,"y":8.0},{"s":"700","o":12,"x":-8,"y":9.2},{"s":"700","o":13,"x":-0.8,"y":8.86},
{"s":"600","o":1,"x":1.0,"y":12.23},{"s":"600","o":2,"x":8,"y":10.11},{"s":"600","o":3,"x":10.84,"y":8},{"s":"600","o":4,"x":13.95,"y":0},{"s":"600","o":5,"x":11.44,"y":-8},{"s":"600","o":6,"x":8,"y":-10.51},{"s":"600","o":7,"x":0,"y":-12.85},{"s":"600","o":8,"x":-8,"y":-12.93},{"s":"600","o":9,"x":-16,"y":-8.4},{"s":"600","o":10,"x":-16.36,"y":-8},{"s":"600","o":11,"x":-18.13,"y":0},{"s":"600","o":12,"x":-16,"y":7.76},{"s":"600","o":13,"x":-15.88,"y":8},{"s":"600","o":14,"x":-8,"y":12.6},{"s":"600","o":15,"x":-0.9,"y":12.54},
{"s":"500","o":1,"x":1.0,"y":15.68},{"s":"500","o":2,"x":8,"y":13.93},{"s":"500","o":3,"x":16,"y":8},{"s":"500","o":4,"x":18.1,"y":0},{"s":"500","o":5,"x":16.41,"y":-8},{"s":"500","o":6,"x":16,"y":-8.48},{"s":"500","o":7,"x":8,"y":-14.19},{"s":"500","o":8,"x":0.74,"y":-16},{"s":"500","o":9,"x":0,"y":-16.17},{"s":"500","o":10,"x":-8,"y":-16.23},{"s":"500","o":11,"x":-8.59,"y":-16},{"s":"500","o":12,"x":-16,"y":-12.44},{"s":"500","o":13,"x":-19.93,"y":-8},{"s":"500","o":14,"x":-21.41,"y":0},{"s":"500","o":15,"x":-19.58,"y":8},{"s":"500","o":16,"x":-16,"y":12.4},{"s":"500","o":17,"x":-8,"y":16.0},{"s":"500","o":18,"x":-0.9,"y":16.0},
{"s":"400a","o":1,"x":-24,"y":4.0},{"s":"400a","o":2,"x":-23.23,"y":8},{"s":"400a","o":3,"x":-16.38,"y":16},{"s":"400a","o":4,"x":-16,"y":16.29},{"s":"400a","o":5,"x":-8,"y":19.36},{"s":"400a","o":6,"x":0,"y":19.31},{"s":"400a","o":7,"x":8,"y":17.74},{"s":"400a","o":8,"x":11.47,"y":16},{"s":"400a","o":9,"x":16,"y":13.0},{"s":"400a","o":10,"x":20.19,"y":8},{"s":"400a","o":11,"x":21.59,"y":1.3},
{"s":"400b","o":1,"x":21.67,"y":-1.1},{"s":"400b","o":2,"x":20.51,"y":-8},{"s":"400b","o":3,"x":16,"y":-13.33},{"s":"400b","o":4,"x":11.85,"y":-16},{"s":"400b","o":5,"x":8,"y":-17.9},{"s":"400b","o":6,"x":0,"y":-19.49},{"s":"400b","o":7,"x":-8,"y":-19.54},{"s":"400b","o":8,"x":-16,"y":-16.49},{"s":"400b","o":9,"x":-16.64,"y":-16},{"s":"400b","o":10,"x":-23.5,"y":-8},{"s":"400b","o":11,"x":-24,"y":-4.8},
{"s":"300a","o":1,"x":-24,"y":14.5},{"s":"300a","o":2,"x":-22.7,"y":16},{"s":"300a","o":3,"x":-16,"y":20.6},{"s":"300a","o":4,"x":-8,"y":22.72},{"s":"300a","o":5,"x":-1.1,"y":22.69},
{"s":"300b","o":1,"x":1.1,"y":22.66},{"s":"300b","o":2,"x":8,"y":21.51},{"s":"300b","o":3,"x":16,"y":17.98},{"s":"300b","o":4,"x":18.46,"y":16},{"s":"300b","o":5,"x":24,"y":8.9},
{"s":"300c","o":1,"x":24,"y":-9.18},{"s":"300c","o":2,"x":18.73,"y":-16},{"s":"300c","o":3,"x":16,"y":-18.18},{"s":"300c","o":4,"x":8,"y":-21.62},{"s":"300c","o":5,"x":1.1,"y":-22.78},
{"s":"300d","o":1,"x":-1.1,"y":-22.81},{"s":"300d","o":2,"x":-8,"y":-22.84},{"s":"300d","o":3,"x":-16,"y":-20.55},{"s":"300d","o":4,"x":-21.93,"y":-16},{"s":"300d","o":5,"x":-24,"y":-13.5},
{"s":"200a","o":1,"x":-23.4,"y":21.6},{"s":"200a","o":2,"x":-15.8,"y":24},
{"s":"200b","o":1,"x":16.9,"y":23.0},{"s":"200b","o":2,"x":24,"y":18.4},
{"s":"200c","o":1,"x":16.9,"y":-22.9},{"s":"200c","o":2,"x":24,"y":-17.8},
{"s":"200d","o":1,"x":-24,"y":-21.4},{"s":"200d","o":2,"x":-20.3,"y":-23.15}
    ]
  },
  "layer": [
    {
      "data": {"name": "heat"},
      "mark": {"type": "rect", "width": 33.3, "height": 38.6, "clip": true},
      "encoding": {
        "x": {"field": "x", "type": "quantitative", "scale": {"domain": [-24, 24], "nice": false, "zero": false}, "axis": {"values": [-24, -16, -8, 0, 8, 16, 24], "title": "x (inches)", "labelPadding": 3, "titleY": 43, "titleBaseline": "middle"}},
        "y": {"field": "y", "type": "quantitative", "scale": {"domain": [-24, 24], "nice": false, "zero": false}, "axis": {"values": [-24, -16, -8, 0, 8, 16, 24], "title": "y (inches)", "labelPadding": 2, "titleX": -30, "titleY": 455.5, "titleAngle": -90, "titleAlign": "center", "titleBaseline": "middle"}},
        "color": {"field": "v", "type": "quantitative", "scale": {"scheme": "inferno", "domain": [0, 1400]},
          "legend": {"orient": "none", "legendX": 795, "legendY": 0, "direction": "vertical", "title": null, "gradientLength": 911, "gradientThickness": 44, "values": [0, 200, 400, 600, 800, 1000, 1200, 1400], "format": "d", "labelFont": "DejaVu Sans", "labelFontSize": 15, "labelColor": "#000", "labelOffset": 6, "labelBaseline": "middle", "labelOverlap": false, "gradientStrokeColor": "#999", "gradientStrokeWidth": 0.6, "padding": 0,
            "encode": {"labels": {"update": {"baseline": {"value": "middle"}}}}}}
      }
    },
    {
      "data": {"name": "heat2"},
      "mark": {"type": "rect", "width": 32.8, "height": 38.1, "opacity": 0.5},
      "encoding": {
        "x": {"field": "x", "type": "quantitative"},
        "y": {"field": "y", "type": "quantitative"},
        "color": {"field": "v", "type": "quantitative"}
      }
    },
    {
      "data": {"name": "contours"},
      "mark": {"type": "line", "clip": true, "color": "#000", "opacity": 0.3, "strokeWidth": 0.8},
      "encoding": {
        "x": {"field": "x", "type": "quantitative"},
        "y": {"field": "y", "type": "quantitative"},
        "detail": {"field": "s"},
        "order": {"field": "o"}
      }
    },
    {
      "data": {"values": [{"x": 0.05, "y": 22.55, "t": "300"}, {"x": 0.05, "y": -22.9, "t": "300"}, {"x": 0.05, "y": 16.0, "t": "500"}]},
      "mark": {"type": "text", "clip": true, "font": "DejaVu Sans", "fontSize": 12.5, "color": "#000", "opacity": 0.5, "baseline": "middle", "align": "center"},
      "encoding": {"x": {"field": "x", "type": "quantitative"}, "y": {"field": "y", "type": "quantitative"}, "text": {"field": "t"}}
    },
    {
      "data": {"values": [{"x": 0.05, "y": 12.45, "t": "600"}]},
      "mark": {"type": "text", "clip": true, "font": "DejaVu Sans", "fontSize": 12.5, "color": "#000", "opacity": 0.5, "baseline": "middle", "align": "center", "angle": 5},
      "encoding": {"x": {"field": "x", "type": "quantitative"}, "y": {"field": "y", "type": "quantitative"}, "text": {"field": "t"}}
    },
    {
      "data": {"values": [{"x": 0.1, "y": 8.7, "t": "700"}]},
      "mark": {"type": "text", "clip": true, "font": "DejaVu Sans", "fontSize": 12.5, "color": "#000", "opacity": 0.5, "baseline": "middle", "align": "center", "angle": 9},
      "encoding": {"x": {"field": "x", "type": "quantitative"}, "y": {"field": "y", "type": "quantitative"}, "text": {"field": "t"}}
    },
    {
      "data": {"values": [{"x": -7.95, "y": 1.95, "t": "800"}]},
      "mark": {"type": "text", "clip": true, "font": "DejaVu Sans", "fontSize": 12.5, "color": "#000", "opacity": 0.5, "baseline": "middle", "align": "center", "angle": -22},
      "encoding": {"x": {"field": "x", "type": "quantitative"}, "y": {"field": "y", "type": "quantitative"}, "text": {"field": "t"}}
    },
    {
      "data": {"values": [{"x": 21.75, "y": 0.1, "t": "400"}]},
      "mark": {"type": "text", "clip": true, "font": "DejaVu Sans", "fontSize": 12.5, "color": "#000", "opacity": 0.5, "baseline": "middle", "align": "center", "angle": 90},
      "encoding": {"x": {"field": "x", "type": "quantitative"}, "y": {"field": "y", "type": "quantitative"}, "text": {"field": "t"}}
    },
    {
      "data": {"values": [{"x": 16.0, "y": 23.6, "t": "200"}, {"x": -19.4, "y": -23.65, "t": "200"}]},
      "mark": {"type": "text", "clip": true, "font": "DejaVu Sans", "fontSize": 12.5, "color": "#000", "opacity": 0.5, "baseline": "middle", "align": "center", "angle": 33},
      "encoding": {"x": {"field": "x", "type": "quantitative"}, "y": {"field": "y", "type": "quantitative"}, "text": {"field": "t"}}
    },
    {
      "data": {"values": [{"x": 16.0, "y": -23.45, "t": "200"}, {"x": -24.3, "y": 21.35, "t": "200"}]},
      "mark": {"type": "text", "clip": true, "font": "DejaVu Sans", "fontSize": 12.5, "color": "#000", "opacity": 0.5, "baseline": "middle", "align": "center", "angle": -35},
      "encoding": {"x": {"field": "x", "type": "quantitative"}, "y": {"field": "y", "type": "quantitative"}, "text": {"field": "t"}}
    },
    {
      "data": {"values": [{"x1": -23.875, "x2": 23.875, "y1": -13.875, "y2": 13.875}]},
      "mark": {"type": "rect", "fillOpacity": 0, "stroke": "#f3e8a6", "strokeWidth": 1.4, "strokeDash": [1.5, 1.5]},
      "encoding": {"x": {"field": "x1", "type": "quantitative"}, "x2": {"field": "x2"}, "y": {"field": "y1", "type": "quantitative"}, "y2": {"field": "y2"}}
    },
    {
      "data": {"values": [{"x": -23.05, "y": -13.15, "t": "Fixture footprint. X = 47.75 inches Y = 27.75 inches"}]},
      "mark": {"type": "text", "font": "DejaVu Sans", "fontSize": 13.3, "fontWeight": "bold", "color": "#f7e425", "align": "left", "baseline": "middle"},
      "encoding": {"x": {"field": "x", "type": "quantitative"}, "y": {"field": "y", "type": "quantitative"}, "text": {"field": "t"}}
    }
  ]
}
